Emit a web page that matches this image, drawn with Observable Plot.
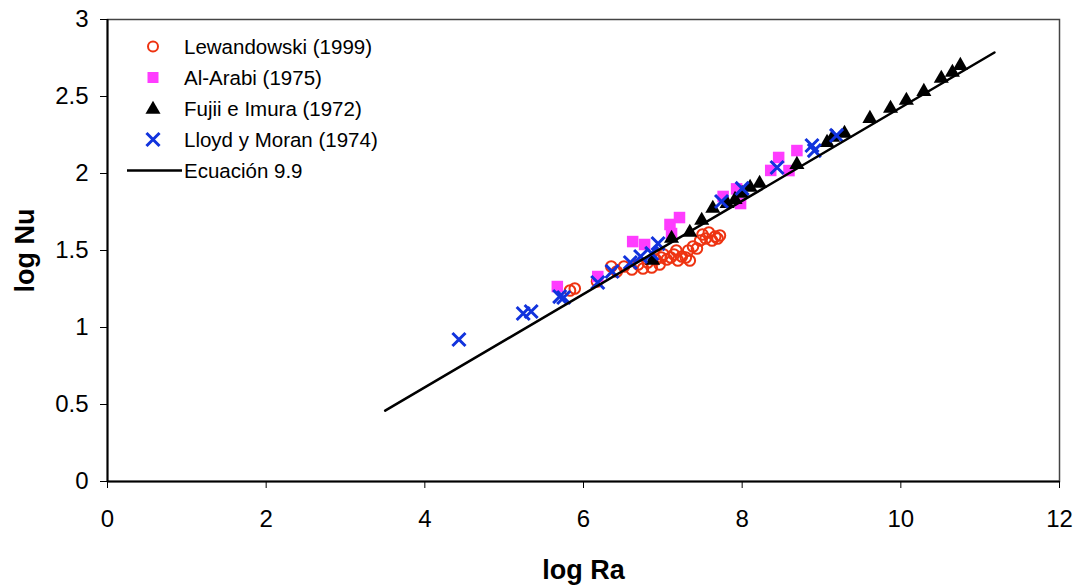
<!DOCTYPE html>
<html><head><meta charset="utf-8">
<script src="https://cdn.jsdelivr.net/npm/d3@7"></script>
<script src="https://cdn.jsdelivr.net/npm/@observablehq/plot@0.6"></script>
<style>
body{margin:0;background:#fff;font-family:"Liberation Sans",Arial,sans-serif}
#wrap{position:relative;width:1085px;height:585px}
#legend{position:absolute;left:120px;top:31px;font-size:20.5px;line-height:31px;color:#000}
#legend .row{display:flex;align-items:center;height:31px}
#legend svg{width:64px;height:31px;flex:none}
svg [aria-label="x-axis label"] text, svg [aria-label="y-axis label"] text{font-weight:bold;font-size:27px}
</style></head>
<body><div id="wrap"></div>
<script>
const seriesNames = ["Lewandowski (1999)", "Al-Arabi (1975)", "Fujii e Imura (1972)", "Lloyd y Moran (1974)", "Ecuación 9.9"];
const xTicks = [0, 2, 4, 6, 8, 10, 12];
const yTicks = [0, 0.5, 1, 1.5, 2, 2.5, 3];

const lewX = [5.83,5.89,6.17,6.35,6.42,6.51,6.61,6.69,6.75,6.81,6.86,6.91,6.98,7.01,7.05,7.10,7.14,7.19,7.24,7.29,7.32,7.34,7.38,7.43,7.47,7.50,7.54,7.58,7.62,7.66,7.69,7.72,6.96,7.17];
const lewY = [1.240,1.253,1.299,1.396,1.364,1.396,1.377,1.409,1.383,1.422,1.390,1.442,1.455,1.474,1.442,1.455,1.474,1.435,1.461,1.455,1.500,1.435,1.526,1.513,1.565,1.604,1.578,1.617,1.565,1.591,1.578,1.597,1.409,1.500];

const araX = [5.67,6.18,6.62,6.77,7.09,7.21,7.11,7.76,7.98,7.93,8.46,8.69,8.59,8.36];
const araY = [1.266,1.331,1.558,1.539,1.669,1.714,1.610,1.851,1.805,1.900,2.104,2.149,2.019,2.020];

const fujX = [6.87,7.11,7.34,7.49,7.63,7.81,7.91,8.00,8.10,8.22,8.69,9.07,9.14,9.29,9.61,9.87,10.07,10.29,10.51,10.65,10.75];
const fujY = [1.435,1.578,1.617,1.695,1.773,1.805,1.831,1.870,1.909,1.935,2.058,2.201,2.234,2.260,2.357,2.422,2.474,2.532,2.617,2.656,2.701];

const lloX = [4.43,5.24,5.34,5.70,5.75,6.18,6.36,6.59,6.72,6.86,6.94,7.74,8.00,8.44,8.88,8.91,9.19];
const lloY = [0.922,1.091,1.104,1.201,1.195,1.292,1.364,1.422,1.461,1.481,1.545,1.818,1.903,2.039,2.182,2.149,2.247];

const eqX = [3.5, 11.18];
const eqY = [0.46, 2.786];

const colors = {lew:"#ee3311", ara:"#ff3cff", fuj:"#000000", llo:"#1133dd"};

const tbl = (xs, ys) => xs.map((x, i) => ({x, y: ys[i]}));
const lew = tbl(lewX, lewY), ara = tbl(araX, araY), fuj = tbl(fujX, fujY), llo = tbl(lloX, lloY), eq = tbl(eqX, eqY);

const chart = Plot.plot({
  width: 1085, height: 585,
  marginLeft: 107, marginRight: 26, marginTop: 19, marginBottom: 104,
  style: {fontFamily: "Liberation Sans, Arial, sans-serif", fontSize: "24px", color: "#000", background: "#fff"},
  x: {domain: [0, 12]},
  y: {domain: [0, 3]},
  marks: [
    Plot.frame({stroke: "#444", strokeWidth: 1.5}),
    Plot.axisX({ticks: xTicks, tickSize: 7, tickPadding: 21, tickFormat: d => String(d), label: "log Ra", labelArrow: "none", labelAnchor: "center", labelOffset: 97, fontSize: 24}),
    Plot.axisY({ticks: yTicks, tickSize: 7, tickPadding: 12, tickFormat: d => String(d), label: "log Nu", labelArrow: "none", labelAnchor: "center", labelOffset: 93, fontSize: 24}),
    Plot.ruleX([0], {stroke: "#000", strokeWidth: 2}),
    Plot.ruleY([0], {stroke: "#000", strokeWidth: 2}),
    Plot.dot(lew, {x: "x", y: "y", r: 5.3, stroke: colors.lew, strokeWidth: 2, fill: "none"}),
    Plot.dot(ara, {x: "x", y: "y", r: 6.5, symbol: "square", fill: colors.ara, stroke: "none"}),
    Plot.dot(fuj, {x: "x", y: "y", r: 5.6, symbol: "triangle", fill: colors.fuj, stroke: "none"}),
    Plot.dot(llo, {x: "x", y: "y", r: 6, symbol: "times", stroke: colors.llo, strokeWidth: 3}),
    Plot.line(eq, {x: "x", y: "y", stroke: "#000", strokeWidth: 2.5})
  ]
});
const wrap = document.getElementById("wrap");
wrap.appendChild(chart);

// legend
const legend = document.createElement("div");
legend.id = "legend";
const icons = [
  `<circle cx="33" cy="15.5" r="5" fill="none" stroke="${colors.lew}" stroke-width="2"/>`,
  `<rect x="27.5" y="10" width="11" height="11" fill="${colors.ara}"/>`,
  `<path d="${d3.symbol(d3.symbolTriangle, Math.PI*5.6*5.6)()}" transform="translate(33,16.5)" fill="#000"/>`,
  `<path d="${d3.symbol(d3.symbolTimes, Math.PI*6*6)()}" transform="translate(33,15.5)" fill="none" stroke="${colors.llo}" stroke-width="3"/>`,
  `<line x1="7" x2="62" y1="15.5" y2="15.5" stroke="#000" stroke-width="2.5"/>`
];
seriesNames.forEach((n, i) => {
  const row = document.createElement("div");
  row.className = "row";
  row.innerHTML = `<svg viewBox="0 0 64 31">${icons[i]}</svg><span>${n}</span>`;
  legend.appendChild(row);
});
wrap.appendChild(legend);
</script>
</body></html>
